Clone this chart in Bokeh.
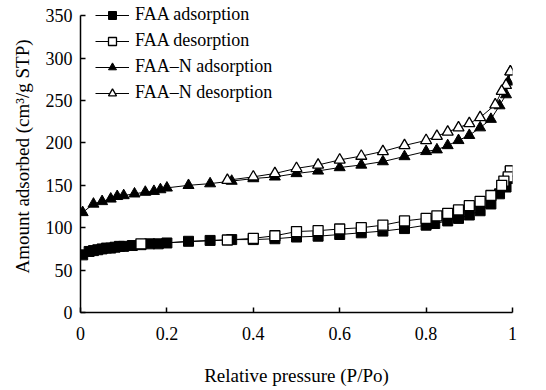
from bokeh.plotting import figure
from bokeh.models import Legend, LegendItem, FixedTicker, Range1d
from bokeh.embed import file_html
from bokeh.resources import INLINE

# FAA adsorption (filled squares)
faa_ads_x = [0.005, 0.02, 0.03, 0.04, 0.05, 0.06, 0.07, 0.08, 0.09, 0.10, 0.12, 0.14, 0.16, 0.18, 0.20,
             0.25, 0.30, 0.35, 0.40, 0.45, 0.50, 0.55, 0.60, 0.65, 0.70, 0.75, 0.80, 0.82, 0.85, 0.875,
             0.90, 0.925, 0.95, 0.97, 0.985, 0.99, 0.995]
faa_ads_y = [68, 72, 73, 74, 75, 76, 76, 77, 78, 78, 79, 80, 81, 81, 82,
             84, 85, 86, 86, 87, 89, 90, 92, 94, 96, 99, 103, 105, 108, 111,
             115, 120, 128, 140, 148, 158, 167]
# FAA desorption (open squares)
faa_des_x = [0.995, 0.99, 0.98, 0.975, 0.95, 0.925, 0.90, 0.875, 0.85, 0.825, 0.80, 0.75, 0.70, 0.65,
             0.60, 0.55, 0.50, 0.45, 0.40, 0.34, 0.14]
faa_des_y = [167, 160, 155, 150, 138, 131, 126, 121, 117, 114, 111, 108, 103, 100,
             98.5, 96.5, 95.5, 90.5, 87.5, 85.5, 81]
# FAA-N adsorption (filled triangles)
faan_ads_x = [0.005, 0.03, 0.05, 0.07, 0.085, 0.10, 0.125, 0.15, 0.17, 0.185, 0.20, 0.25, 0.30, 0.35,
              0.40, 0.45, 0.50, 0.55, 0.60, 0.65, 0.70, 0.75, 0.80, 0.825, 0.85, 0.875, 0.90, 0.925,
              0.95, 0.97, 0.985, 0.99, 0.995]
faan_ads_y = [118, 128, 131, 134, 137, 138, 140, 142, 143, 145, 147, 150, 152, 155,
              158, 160, 164, 167, 171, 174, 178, 184, 190, 192, 197, 203, 209, 218,
              228, 244, 257, 272, 284]
# FAA-N desorption (open triangles)
faan_des_x = [0.995, 0.985, 0.975, 0.96, 0.925, 0.90, 0.875, 0.85, 0.825, 0.80, 0.75, 0.70, 0.65,
              0.60, 0.55, 0.50, 0.45, 0.40, 0.34]
faan_des_y = [284, 268, 261, 245, 230, 223, 218, 213, 208, 203, 197, 190, 184.5,
              180, 174, 170, 164, 160, 156]

x_ticks = [0, 0.2, 0.4, 0.6, 0.8, 1]
x_tick_labels = ["0", "0.2", "0.4", "0.6", "0.8", "1"]
y_ticks = [0, 50, 100, 150, 200, 250, 300, 350]

FONT = "Liberation Serif"

p = figure(width=538, height=388, output_backend="svg", toolbar_location=None,
           x_range=Range1d(0, 1), y_range=Range1d(0, 368),
           min_border_left=80, min_border_right=26, min_border_top=0, min_border_bottom=75)
p.grid.visible = False
p.outline_line_color = None
p.background_fill_color = "white"

r1l = p.line(faa_ads_x, faa_ads_y, line_color="black", line_width=1)
r1m = p.scatter(faa_ads_x, faa_ads_y, marker="square", size=10, fill_color="black", line_color="black")
r2l = p.line(faa_des_x, faa_des_y, line_color="black", line_width=1)
r2m = p.scatter(faa_des_x, faa_des_y, marker="square", size=10, fill_color="white", line_color="black", line_width=1.3)
r3l = p.line(faan_ads_x, faan_ads_y, line_color="black", line_width=1)
r3m = p.scatter(faan_ads_x, faan_ads_y, marker="triangle", size=11, fill_color="black", line_color="black")
r4l = p.line(faan_des_x, faan_des_y, line_color="black", line_width=1)
r4m = p.scatter(faan_des_x, faan_des_y, marker="triangle", size=11, fill_color="white", line_color="black", line_width=1.3)

for ax in (p.xaxis[0], p.yaxis[0]):
    ax.axis_line_width = 1.5
    ax.major_tick_in = 5
    ax.major_tick_out = 0
    ax.major_tick_line_width = 1.5
    ax.minor_tick_line_color = None
    ax.major_label_text_font = FONT
    ax.major_label_text_font_size = "18px"
    ax.major_label_text_color = "black"
    ax.axis_label_text_font = FONT
    ax.axis_label_text_font_style = "normal"
    ax.axis_label_text_color = "black"

p.xaxis.ticker = FixedTicker(ticks=x_ticks)
p.xaxis.major_label_overrides = {t: l for t, l in zip(x_ticks, x_tick_labels)}
p.xaxis.major_label_standoff = 14
p.xaxis.axis_label = "Relative pressure (P/Po)"
p.xaxis.axis_label_text_font_size = "19px"
p.xaxis.axis_label_standoff = 22

p.yaxis.ticker = FixedTicker(ticks=y_ticks)
p.yaxis.bounds = (0, 350)
p.yaxis.major_label_standoff = 8
p.yaxis.axis_label = "Amount adsorbed (cm³/g STP)"
p.yaxis.axis_label_text_font_size = "19px"
p.yaxis.axis_label_standoff = 10

legend = Legend(items=[
    LegendItem(label="FAA adsorption", renderers=[r1l, r1m]),
    LegendItem(label="FAA desorption", renderers=[r2l, r2m]),
    LegendItem(label="FAA\u2013N adsorption", renderers=[r3l, r3m]),
    LegendItem(label="FAA\u2013N desorption", renderers=[r4l, r4m]),
], location=(15, 209))
legend.border_line_color = None
legend.background_fill_alpha = 0
legend.padding = 0
legend.margin = 0
legend.spacing = 5
legend.glyph_width = 34
legend.glyph_height = 20
legend.label_standoff = 6
legend.label_text_font = FONT
legend.label_text_font_size = "18px"
legend.label_text_color = "black"
p.add_layout(legend, "center")

open("out.html", "w").write(file_html(p, INLINE))
